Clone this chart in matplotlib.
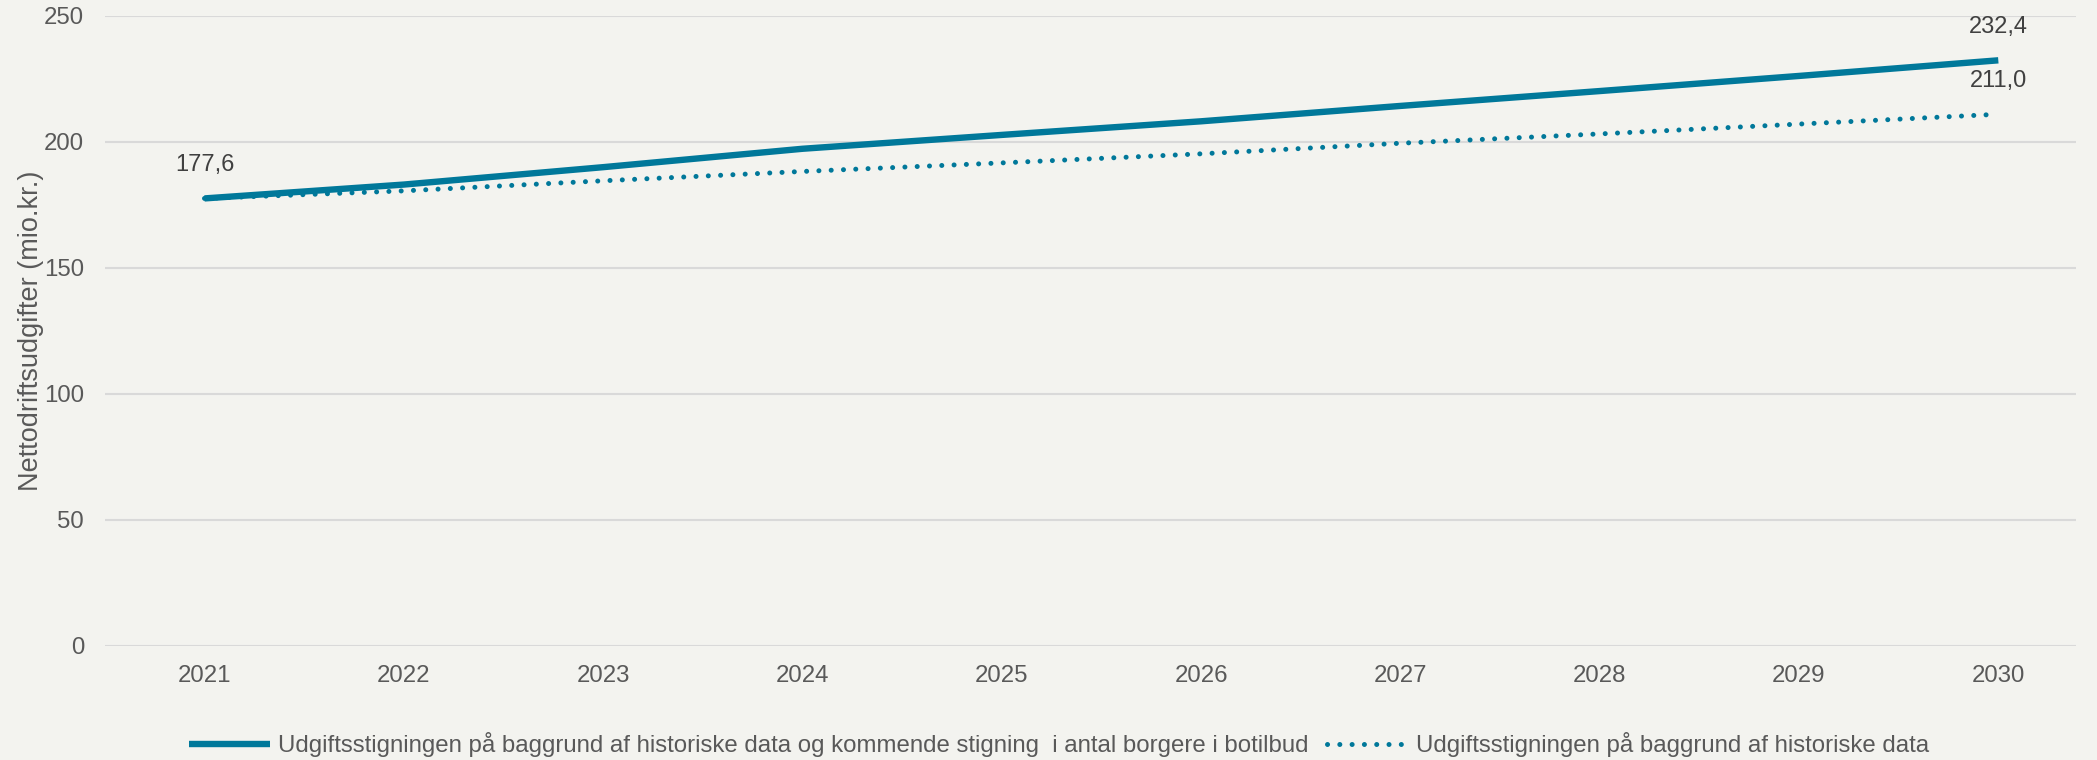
import matplotlib.pyplot as plt

# data
years = ["2021", "2022", "2023", "2024", "2025", "2026", "2027", "2028", "2029", "2030"]
med_borgere = [177.6, 183.1, 190.0, 197.3, 202.8, 208.2, 214.3, 220.2, 226.2, 232.4]
historisk = [177.6, 180.6, 184.6, 188.3, 191.7, 195.3, 199.5, 203.2, 207.1, 211.0]
navn_1 = "Udgiftsstigningen på baggrund af historiske data og kommende stigning  i antal borgere i botilbud"
navn_2 = "Udgiftsstigningen på baggrund af historiske data"

farve = "#00789A"
bg = "#F3F3EF"
plt.rcParams['font.family'] = ['Liberation Sans', 'DejaVu Sans']

fig = plt.figure(figsize=(20.97, 7.6), dpi=100, facecolor=bg)
ax = fig.add_axes([0.05, 0.15, 0.94, 0.829])
ax.set_facecolor(bg)

x = list(range(len(years)))
ax.plot(x, med_borgere, color=farve, lw=4.6, solid_capstyle='butt', label=navn_1)
ax.plot(x, historisk, color=farve, lw=3.6, linestyle=(0, (0.01, 2.45)),
        dash_capstyle='round', label=navn_2)

# dataetiketter
def etiket(i, v):
    ax.annotate(f"{v:.1f}".replace(".", ","), (i, v), xytext=(0, 24),
                textcoords='offset points', ha='center', va='center',
                fontsize=17, color='#404040')

etiket(0, med_borgere[0])
etiket(9, med_borgere[9])
etiket(9, historisk[9])

ax.set_xlim(-0.5, 9.39)
ax.set_ylim(0, 250)
ax.set_yticks([0, 50, 100, 150, 200, 250])
ax.set_xticks(x)
ax.set_xticklabels(years)
ax.grid(axis='y', color='#D9D9D9', lw=1.5)
ax.set_axisbelow(True)
for s in ax.spines.values():
    s.set_visible(False)
ax.tick_params(length=0, labelsize=17.3, labelcolor='#595959')
ax.tick_params(axis='x', pad=14)
ax.tick_params(axis='y', pad=15)
ax.set_ylabel("Nettodriftsudgifter (mio.kr.)", fontsize=19.5, color='#595959', labelpad=0)

fig.legend(loc='center', bbox_to_anchor=(0.505, 0.02), ncol=2, frameon=False,
           fontsize=17.3, labelcolor='#595959', handlelength=3.4, handletextpad=0.3,
           columnspacing=0.8)

fig.savefig("out.png", dpi=100, facecolor=bg)
